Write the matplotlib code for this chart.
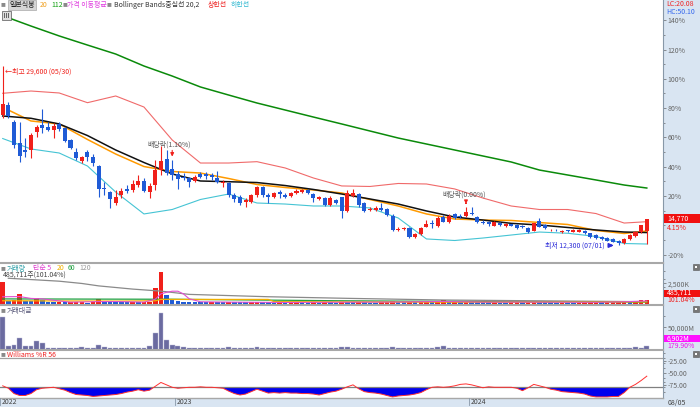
import numpy as np
import pandas as pd
import matplotlib
matplotlib.use("Agg")
import matplotlib.pyplot as plt
from matplotlib.patches import Rectangle

plt.rcParams['font.family'] = ['Noto Sans CJK KR', 'DejaVu Sans']

W, H = 700, 407
def fx(px):
    return px / W
def fy(py):
    return 1 - py / H

# weekly candles from 2022-05-30
weeks = pd.date_range('2022-05-30', periods=115, freq='W-MON')

opens = [24860, 25870, 24150, 22120, 21470, 21470, 23180, 23890, 23670, 23410,
         23960, 23570, 22440, 21250, 20410, 21250, 20790, 19920, 17820, 17380,
         16310, 17110, 17700, 17600, 18080, 18470, 17430, 18080, 19580, 20600,
         19600, 19150, 18890, 18730, 18500, 19120, 19120, 19050, 18790, 18250,
         18250, 17110, 16950, 16470, 16470, 17110, 17860, 17110, 16950, 17400,
         17110, 17020, 17340, 17380, 17600, 17210, 16760, 16850, 16150, 16630,
         16890, 15590, 17020, 17210, 16310, 15660, 15690, 15890, 15730, 15110,
         13730, 13790, 13890, 13020, 13340, 14050, 14400, 14110, 15010, 14470,
         15250, 15110, 15110, 15410, 14960, 14530, 14500, 14140, 14370, 14110,
         14260, 14210, 14090, 13890, 13660, 14630, 14210, 13680, 13770, 13500,
         13700, 13560, 13580, 13660, 13410, 13240, 13050, 12950, 12860, 12690,
         12420, 12860, 13150, 13530, 13660]
highs = [29600, 26120, 24370, 24210, 22630, 23120, 23890, 25440, 24180, 24060,
         24150, 23700, 22540, 21690, 20920, 21470, 21050, 20020, 18400, 17500,
         17600, 17760, 18080, 18570, 19050, 18730, 18250, 20500, 21860, 21470,
         20500, 19440, 19220, 18890, 19050, 19370, 19370, 19270, 19470, 18570,
         18400, 17340, 17110, 16820, 17210, 17990, 17990, 17280, 17400, 17600,
         17280, 17400, 17700, 17700, 17700, 17340, 17020, 16950, 17020, 16730,
         16950, 17600, 17670, 17310, 16440, 15950, 16050, 16370, 15860, 15280,
         14020, 14020, 13990, 13440, 14050, 14690, 14690, 15080, 15150, 15280,
         15370, 15250, 15950, 15920, 15050, 14660, 14600, 14600, 14470, 14370,
         14340, 14310, 14180, 13990, 14430, 14860, 14280, 13850, 13850, 13760,
         13760, 13790, 13820, 13730, 13470, 13310, 13120, 13020, 12920, 12760,
         12950, 13310, 13630, 14250, 14820]
lows = [24600, 24570, 21630, 20340, 20820, 20730, 22730, 23090, 23310, 22600,
        23310, 22240, 21570, 20500, 20180, 20410, 19950, 16950, 17110, 15830,
        16150, 16800, 17280, 17430, 17920, 17380, 16800, 17600, 19050, 19050,
        18570, 17700, 18570, 17920, 18400, 18730, 18630, 18570, 18250, 17920,
        16950, 16470, 16150, 15920, 16340, 16950, 16950, 16370, 16820, 16800,
        16800, 16920, 17210, 17310, 17210, 16470, 16630, 16050, 16050, 16240,
        14860, 15500, 16920, 15950, 15470, 15570, 15590, 15570, 15080, 13630,
        13630, 13680, 12950, 12920, 13240, 13990, 13920, 14020, 14470, 14400,
        14790, 14860, 15010, 15180, 14400, 14280, 14110, 14080, 14110, 14050,
        14080, 13820, 13920, 13440, 13600, 13990, 13820, 13630, 13600, 13440,
        13530, 13500, 13530, 13340, 12950, 12860, 12790, 12630, 12540, 12300,
        12370, 12760, 13050, 13440, 12400]
closes = [25890, 24790, 21950, 20920, 21300, 22920, 23670, 23570, 23410, 23790,
          23470, 22370, 21690, 20670, 20790, 20820, 20180, 17670, 17670, 16730,
          16950, 17500, 17500, 18150, 18470, 17500, 18010, 19530, 20360, 19240,
          19050, 18630, 18730, 18400, 18890, 18890, 18950, 18830, 18400, 18400,
          17110, 16730, 16310, 16630, 17110, 17860, 17080, 16890, 17280, 17210,
          16950, 17280, 17500, 17600, 17280, 16800, 16890, 16150, 16850, 16340,
          15590, 17280, 17310, 16150, 15590, 15790, 15860, 15660, 15180, 13730,
          13850, 13890, 13020, 13340, 13950, 14280, 14310, 14920, 14530, 15080,
          14860, 14960, 15440, 15280, 14470, 14370, 14280, 14530, 14210, 14280,
          14160, 13890, 13990, 13500, 14370, 14050, 13890, 13770, 13680, 13660,
          13600, 13730, 13770, 13410, 13020, 12920, 12860, 12690, 12590, 12420,
          12900, 13240, 13560, 14180, 14770]

prev_close = 14180   # 0% of the right-hand scale

# moving averages / bollinger bands
bb_idx = [0, 5, 10, 15, 20, 25, 30, 35, 40, 45, 50, 55, 60, 65, 70, 75, 80, 85, 90, 95, 100, 105, 110, 114]
bb_mid = [24760, 24540, 23990, 22870, 21470, 20260, 19150, 18470, 18400, 18320, 18030, 17650,
          17210, 16730, 16240, 15570, 14980, 14690, 14370, 14210, 13970, 13730, 13530, 13480]
bb_up = [26960, 27180, 26990, 26050, 26700, 25630, 22440, 20210, 20210, 20340, 19730, 18760,
         17990, 17940, 18230, 18180, 17700, 16820, 16050, 15710, 15710, 15320, 14400, 14530]
bb_dn = [22580, 21570, 21180, 19920, 17400, 15280, 15710, 16680, 17210, 16340, 16240, 16050,
         16050, 15860, 14890, 12860, 12710, 12950, 13240, 13530, 13410, 13100, 12420, 12370]
ma_idx = [1, 5, 10, 15, 20, 25, 30, 35, 40, 45, 50, 55, 60, 65, 70, 75, 80, 85, 90, 95, 100, 105, 110, 114]
ma20 = [25340, 24280, 23990, 22490, 21080, 19870, 19390, 19240, 18710, 18130, 17840, 17600,
        17310, 16680, 16050, 15280, 14790, 14690, 14650, 14450, 14260, 13680, 13390, 13630]
ma112 = [34270, 33470, 32510, 31630, 30760, 29600, 28630, 27570, 26790, 26020, 25340, 24660,
         23990, 23310, 22630, 22050, 21470, 20890, 20310, 19530, 19050, 18570, 18080, 17790]

# volume (thousand shares)
volume = [2630, 350, 560, 1180, 420, 400, 790, 550, 250, 230,
          260, 220, 240, 260, 330, 200, 220, 630, 300, 280,
          260, 240, 220, 250, 230, 240, 330, 1920, 3900, 1060,
          550, 350, 280, 250, 240, 230, 220, 260, 250, 230,
          330, 260, 250, 230, 250, 300, 260, 220, 210, 220,
          200, 210, 230, 220, 200, 240, 200, 230, 220, 200,
          330, 300, 250, 260, 250, 210, 200, 230, 260, 380,
          250, 230, 330, 260, 280, 300, 260, 340, 510, 300,
          300, 260, 300, 280, 250, 230, 220, 240, 210, 200,
          220, 250, 230, 260, 320, 300, 240, 220, 200, 210,
          200, 190, 200, 230, 280, 300, 260, 280, 300, 340,
          350, 330, 360, 481, 486]
vma5_idx = [0, 3, 5, 7, 9, 12, 17, 20, 25, 27, 28, 29, 30, 31, 32, 33, 35, 40, 50, 60, 70, 78, 85, 95, 105, 110, 114]
vma5 = [900, 920, 700, 650, 480, 250, 320, 330, 260, 600, 1250, 1420, 1560, 1560, 1230, 660,
        300, 260, 220, 250, 270, 340, 260, 260, 240, 300, 400]
vma20_idx = [0, 20, 27, 28, 47, 48, 70, 90, 114]
vma20 = [420, 380, 420, 580, 580, 320, 260, 250, 290]
vma60_idx = [0, 30, 60, 90, 114]
vma60 = [640, 600, 420, 300, 270]
vma120_idx = [1, 10, 14, 17, 23, 28, 33, 47, 61, 78, 114]
vma120 = [3100, 2750, 2480, 2190, 1810, 1570, 1180, 900, 710, 510, 310]

# trading value (million won)
value = [72800, 7400, 9600, 26800, 7400, 7400, 18500, 14100, 4000, 3800,
         4500, 3800, 4000, 3800, 6000, 3800, 3800, 9600, 5100, 4500,
         4200, 4000, 4000, 4200, 4000, 4000, 8200, 37000, 81700, 20800,
         9600, 8200, 5100, 4500, 4200, 4000, 4000, 4500, 4200, 4000,
         6700, 4500, 4200, 3800, 4200, 5100, 4500, 3600, 3400, 3600,
         3400, 3600, 3800, 3600, 3400, 4000, 3400, 3800, 3600, 3400,
         5600, 5100, 4200, 4200, 3800, 3400, 3200, 3600, 4000, 6000,
         3400, 3200, 4500, 3400, 3800, 4200, 3600, 5100, 8900, 4500,
         4500, 3800, 4500, 4200, 3600, 3200, 3200, 3400, 3000, 2800,
         3000, 3600, 3200, 3600, 4500, 4200, 3400, 3000, 2800, 2800,
         2800, 2600, 2800, 3000, 3600, 3800, 3400, 3600, 3800, 4200,
         4500, 4300, 4800, 3840, 6902]

# Williams %R (56)
willr = [-77, -82, -93, -97, -97, -93, -85, -82, -81, -80,
         -83, -86, -91, -95, -96, -97, -99, -98, -97, -96,
         -95, -93, -90, -88, -85, -88, -86, -78, -70, -75,
         -80, -82, -81, -80, -80, -79, -80, -80, -81, -82,
         -88, -93, -96, -94, -89, -84, -88, -92, -91, -92,
         -91, -92, -92, -93, -93, -94, -96, -93, -90, -88,
         -84, -79, -75, -83, -89, -91, -92, -94, -97, -100,
         -98, -97, -96, -94, -91, -85, -80, -79, -80, -79,
         -77, -74, -73, -75, -78, -81, -79, -80, -80, -80,
         -80, -82, -87, -81, -74, -77, -80, -84, -86, -89,
         -90, -91, -92, -94, -98, -100, -100, -100, -99, -99,
         -91, -80, -74, -66, -57]

RED = '#f0201a'
BLUE = '#1f5bd6'
GREY_TXT = '#666666'
FS = 5

fig = plt.figure(figsize=(7, 4.07), dpi=100, facecolor='#d9e5f2')
ax = fig.add_axes([0, fy(263), fx(663), 263 / H])
axv = fig.add_axes([0, fy(305), fx(663), 42 / H])
axa = fig.add_axes([0, fy(350), fx(663), 45 / H])
axw = fig.add_axes([0, fy(398), fx(663), 48 / H])

x = np.arange(len(closes))
o = np.array(opens); h = np.array(highs); l = np.array(lows); c = np.array(closes)
up = c >= o
cols = np.where(up, RED, BLUE)

# main price panel
ax.plot(bb_idx, bb_up, color='#f06a6a', lw=0.8, zorder=1)
ax.plot(bb_idx, bb_dn, color='#45c4d4', lw=0.8, zorder=1)
ax.plot(ma_idx, ma112, color='#0a8a0a', lw=1.1, zorder=2)
ax.plot(ma_idx, ma20, color='#ff9a00', lw=1.1, zorder=2)
ax.plot(bb_idx, bb_mid, color='#111111', lw=1.1, zorder=2)
ax.vlines(x, l, h, colors=cols, lw=0.8, zorder=3)
ax.bar(x, np.maximum(np.abs(c - o), 70), bottom=np.minimum(o, c), width=0.72,
       color=cols, lw=0, zorder=4)

ax.text(0.4, 29020, '←최고 29,600 (05/30)', color=RED, fontsize=FS, va='center')
ax.text(25.7, 21950, '배당락(1.10%)', color='#555555', fontsize=FS, va='center')
ax.annotate('', xy=(30, 20560), xytext=(30, 21700),
            arrowprops=dict(arrowstyle='-|>', color=RED, lw=0.8, mutation_scale=5))
ax.text(77.9, 17110, '배당락(0.00%)', color='#555555', fontsize=FS, va='center')
ax.annotate('', xy=(82, 15980), xytext=(82, 16600),
            arrowprops=dict(arrowstyle='-|>', color=RED, lw=0.8, mutation_scale=5))
ax.text(96, 12230, '최저 12,300 (07/01)', color='#2b2bd8', fontsize=FS, va='center')
ax.annotate('', xy=(108.6, 12230), xytext=(107.0, 12230),
            arrowprops=dict(arrowstyle='-|>', color='#2b2bd8', lw=1.2, mutation_scale=6))

pct_ticks = [-20, 20, 40, 60, 80, 100, 120, 140]
ax.set_ylim(10532, 35990)
ax.set_yticks([prev_close * (1 + p / 100) for p in pct_ticks])
ax.set_yticklabels([f'{p}%' for p in pct_ticks])
ax.set_yticks([prev_close * (1 + p / 100) for p in range(-20, 150, 10)], minor=True)

# volume panel
vcol = [RED] + [RED if volume[i] >= volume[i - 1] else BLUE for i in range(1, len(volume))]
axv.bar(x, volume, width=0.8, color=vcol, lw=0)
axv.plot(vma120_idx, vma120, color='#8a8a8a', lw=0.9)
axv.plot(vma60_idx, vma60, color='#20a040', lw=0.9)
axv.plot(vma20_idx, vma20, color='#f0b000', lw=0.9)
axv.plot(vma5_idx, vma5, color='#e050d0', lw=0.8)
axv.set_ylim(-83, 4915)
axv.set_yticks([2500])
axv.set_yticklabels(['2,500K'])
axv.set_yticks([1000, 2000, 3000, 4000], minor=True)

# trading value panel
axa.bar(x, value, width=0.85, color='#6b6ba0', edgecolor='#b8b8d8', lw=0.3)
axa.set_ylim(-1100, 100200)
axa.set_yticks([50000])
axa.set_yticklabels(['50,000M'])
axa.set_yticks([25000, 75000], minor=True)

# williams %R panel
wr = np.array(willr)
axw.axhline(-20, color='#a0a0a0', lw=0.9)
axw.axhline(-80, color='#808080', lw=0.9)
axw.fill_between(x, wr, -80, where=wr < -80, interpolate=True, color='#0000ee', lw=0)
axw.plot(x, wr, color='#ff3030', lw=0.7)
axw.set_ylim(-102.2, -2.8)
axw.set_yticks([-25, -50, -75])
axw.set_yticklabels(['-25.00', '-50.00', '-75.00'])
axw.set_yticks([-10, -20, -30, -40, -60, -70, -80, -90], minor=True)

for i, a in enumerate([ax, axv, axa, axw]):
    a.set_xlim(-0.48, 116.87)
    a.set_xticks([])
    a.set_facecolor('white')
    a.yaxis.tick_right()
    a.tick_params(axis='y', which='major', labelsize=FS, colors=GREY_TXT, length=2.5, width=0.5, pad=1)
    a.tick_params(axis='y', which='minor', length=1.5, width=0.5, colors=GREY_TXT)
    for s in ['left', 'bottom', 'top']:
        a.spines[s].set_visible(False)
    a.spines['right'].set_color('#8898a8')
    a.spines['right'].set_linewidth(0.8)
    if i > 0:
        a.spines['top'].set_visible(True)
        a.spines['top'].set_color('#a8a8a8')
        a.spines['top'].set_linewidth(1.5)
axw.spines['bottom'].set_visible(True)
axw.spines['bottom'].set_color('#a8a8a8')
axw.spines['bottom'].set_linewidth(1.0)

# year labels on the bottom strip
for yr in [2022, 2023, 2024]:
    pos = np.argmax(weeks.year == yr) - 0.5 if yr > 2022 else -0.48
    px = 2.7 + 5.65 * pos
    fig.lines.append(plt.Line2D([fx(px), fx(px)], [fy(398), fy(405)], color='#8898a8', lw=0.6,
                                transform=fig.transFigure))
    fig.text(fx(px + 2), fy(402.5), str(yr), fontsize=FS, color='#444', va='center')
fig.text(fx(668), fy(402.5), weeks[-1].strftime('%m/%d'), fontsize=FS, color='#444', va='center')

# legends
def t(px, py, s, col, **kw):
    fig.text(fx(px), fy(py), s, fontsize=FS, color=col, va='center', **kw)

t(1, 5, '■', '#8a8a8a', fontsize=3.5) if False else fig.text(fx(1), fy(5), '■', fontsize=3.5, color='#8a8a8a', va='center')
t(9, 5, '일본식봉', '#222', bbox=dict(boxstyle='square,pad=0.15', fc='#d6d6d6', ec='#999', lw=0.4))
t(40, 5, '20', '#f0a020')
t(51, 5, '112', '#10a010')
fig.text(fx(63), fy(5), '■', fontsize=3.5, color='#8a8a8a', va='center')
t(67, 5, '가격 이동평균', '#e040e0')
fig.text(fx(107), fy(5), '■', fontsize=3.5, color='#8a8a8a', va='center')
t(114, 5, 'Bollinger Bands중심선 20,2', '#333')
t(208, 5, '상한선', '#ee2222')
t(231, 5, '하한선', '#30b8d0')
t(3, 15.5, 'Ⅲ', '#222', bbox=dict(boxstyle='square,pad=0.1', fc='#dddddd', ec='#555', lw=0.5))

fig.text(fx(1), fy(268.5), '■', fontsize=3.5, color='#8a8a8a', va='center')
t(7, 268.5, '거래량', '#30a0a8')
t(33, 268.5, '단순 5', '#e040d0')
t(57, 268.5, '20', '#f0b000')
t(68, 268.5, '60', '#20a040')
t(79, 268.5, '120', '#999999')
t(3, 276, '485,711주(101.04%)', '#444')
fig.text(fx(1), fy(311), '■', fontsize=3.5, color='#8a8a8a', va='center')
t(7, 311, '거래대금', '#555577')
fig.text(fx(1), fy(355), '■', fontsize=3.5, color='#8a8a8a', va='center')
t(7, 355, 'Williams %R 56', '#ee2222')

# right strip labels
t(666, 4, 'LC:20.08', '#ee2222')
t(666, 11.5, 'HC:50.10', '#3366ee')
fig.patches.append(Rectangle((fx(664), fy(223)), fx(36), 9 / H, transform=fig.transFigure,
                             fc='#f01010', ec='none'))
t(667, 218.5, '14,770', 'white')
t(667, 227.5, '4.15%', '#ee2222')
fig.patches.append(Rectangle((fx(664), fy(296.5)), fx(36), 7 / H, transform=fig.transFigure,
                             fc='#f01010', ec='none'))
t(667, 293, '485,711', 'white')
t(667, 300.5, '101.04%', '#ee2222')
fig.patches.append(Rectangle((fx(664), fy(342)), fx(36), 7 / H, transform=fig.transFigure,
                             fc='#ff10ff', ec='none'))
t(667, 338.5, '6,902M', 'white')
t(667, 345.5, '179.90%', '#ee10ee')
for py in [264, 306, 351]:
    fig.patches.append(Rectangle((fx(693), fy(py + 6)), fx(6), 6 / H, transform=fig.transFigure,
                                 fc='#777777', ec='#555555', lw=0.4))
    fig.patches.append(Rectangle((fx(694.8), fy(py + 4)), fx(2.4), 2.4 / H, transform=fig.transFigure,
                                 fc='white', ec='none'))

fig.savefig('out.png', dpi=100, facecolor=fig.get_facecolor())
